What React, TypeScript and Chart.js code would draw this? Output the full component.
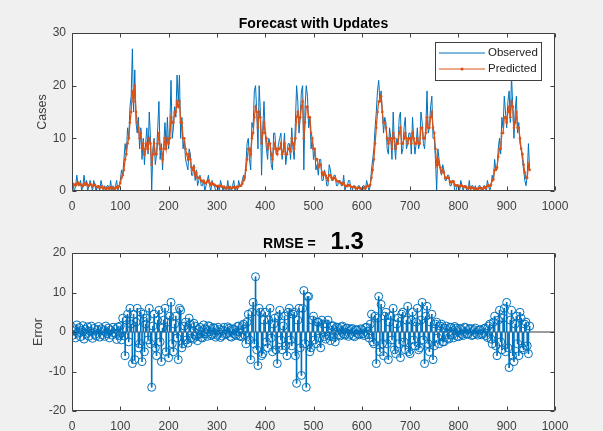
import React, { useEffect, useRef } from 'react';
import { Chart, registerables } from 'chart.js';
Chart.register(...registerables);

const DAY_STEP = 2.5;
const observed = [
  2, 1, 0, 1, 3, 1, 1, 2, 0, 1,   3, 1, 2, 0, 1, 2, 1, 0, 2, 1,
  0, 1, 1, 0, 2, 1, 0, 1, 0, 1,   1, 0, 2, 0, 1, 0, 1, 2, 0, 1,
  2, 4, 3, 6, 9, 7, 12, 10, 16, 18,   27, 15, 23, 13, 11, 14, 8, 12, 6, 10,
  5, 9, 12, 7, 15, 10, 0, 8, 10, 5,   7, 12, 17, 6, 9, 4, 9, 13, 8, 14,
  8, 12, 21, 10, 12, 16, 14, 22, 17, 22,   10, 14, 8, 10, 6, 5, 4, 8, 7, 3,
  3, 5, 2, 4, 1, 2, 3, 1, 1, 2,   0, 1, 2, 3, 1, 0, 2, 1, 1, 0,
  0, 1, 0, 2, 1, 0, 1, 0, 0, 2,   0, 1, 0, 1, 2, 0, 1, 0, 2, 1,
  1, 2, 3, 2, 5, 9, 10, 6, 4, 13,   12, 19, 20, 15, 8, 20, 15, 3, 12, 17,
  11, 8, 6, 10, 9, 5, 4, 11, 11, 7,   7, 9, 10, 11, 6, 8, 11, 5, 7, 9,
  9, 6, 12, 8, 6, 13, 20, 17, 11, 14,   19, 20, 4, 16, 20, 18, 12, 14, 8, 10,
  6, 8, 4, 5, 3, 6, 6, 2, 2, 4,   3, 1, 1, 5, 4, 2, 2, 3, 3, 1,
  1, 2, 2, 1, 1, 3, 0, 1, 1, 2,   2, 0, 0, 1, 1, 0, 0, 1, 1, 0,
  0, 1, 1, 0, 2, 1, 0, 1, 4, 6,   8, 12, 15, 19, 21, 17, 19, 15, 11, 14,
  13, 8, 7, 12, 10, 6, 15, 9, 6, 10,   9, 14, 15, 7, 8, 12, 14, 8, 9, 11,
  11, 7, 14, 10, 7, 9, 12, 8, 9, 15,   13, 9, 8, 12, 19, 11, 12, 16, 18, 10,
  10, 6, 0, 8, 6, 4, 3, 5, 4, 2,   2, 3, 3, 1, 1, 2, 2, 0, 0, 1,
  1, 0, 2, 1, 0, 1, 1, 0, 0, 2,   0, 1, 1, 0, 1, 0, 0, 1, 1, 0,
  0, 1, 1, 0, 2, 1, 0, 1, 3, 2,   6, 4, 4, 8, 10, 7, 14, 12, 18, 15,
  12, 17, 19, 13, 22, 16, 10, 15, 18, 11,   13, 9, 8, 6, 4, 2, 1, 3, 9, 4,
];
const predicted = [
  1.5, 1.3, 1.2, 1, 1.4, 1.6, 1.2, 1.3, 1.1, 0.9,   1.4, 1.2, 1.5, 1.1, 1, 1.3, 1.2, 0.9, 1.1, 1.2,
  0.8, 0.7, 0.9, 0.6, 0.7, 0.9, 0.5, 0.6, 0.4, 0.5,   0.6, 0.4, 0.7, 0.5, 0.6, 0.4, 0.5, 0.8, 0.6, 0.9,
  1.5, 2.5, 3, 4, 6, 7, 9, 10, 13, 15,   19, 17, 20, 15, 13, 12, 10, 11, 8, 9,
  7, 8, 9, 8, 10, 9, 5, 7, 9, 7,   7, 9, 11, 8, 8, 6, 8, 10, 8, 10,
  9, 10, 14, 13, 13, 15, 15, 17, 16, 17,   13, 13, 10, 10, 8, 7, 6, 7, 6, 4.5,
  4, 4.5, 3, 3.5, 2.5, 2.5, 2.5, 2, 1.8, 2,   1.5, 1.5, 1.8, 2, 1.5, 1.2, 1.5, 1.3, 1.2, 1,
  0.9, 1, 0.8, 1, 0.9, 0.7, 0.8, 0.6, 0.5, 0.8,   0.6, 0.7, 0.5, 0.6, 0.8, 0.6, 0.7, 0.6, 0.9, 1,
  1, 1.4, 2, 2.5, 4, 6, 8, 8, 7, 10,   11, 14, 16, 15, 12, 15, 14, 9, 11, 13,
  11, 10, 8, 9, 9, 7, 6, 8, 9, 8,   7, 8, 8, 9, 7, 7.5, 9, 7, 7, 8,
  8, 7.5, 10, 9, 8, 10, 14, 15, 13, 14,   16, 17, 10, 13, 16, 16, 14, 14, 11, 10,
  8, 8, 6, 6, 4.5, 5, 5, 3.5, 3, 3.5,   3, 2.5, 2, 3, 3, 2.5, 2.2, 2.5, 2.4, 2,
  1.8, 1.8, 1.6, 1.5, 1.3, 1.6, 1, 1, 0.9, 1.1,   1.1, 0.8, 0.7, 0.7, 0.8, 0.6, 0.5, 0.6, 0.6, 0.5,
  0.4, 0.5, 0.6, 0.5, 0.9, 1, 0.9, 1.2, 2.5, 4,   6, 9, 12, 15, 17, 17, 18, 15, 13, 13,
  12, 10, 9, 10, 10, 8, 11, 10, 8, 9,   9, 11, 12, 9, 9, 10, 11, 10, 9, 10,
  10, 9, 11, 10, 9, 9, 10, 9, 9, 12,   12, 10, 10, 11, 14, 12, 12, 14, 15, 12,
  11, 8, 5, 6, 5, 4.5, 3.5, 4, 3.5, 2.5,   2.5, 2.5, 2.5, 1.8, 1.6, 1.8, 1.8, 1.2, 1, 1.1,
  1, 0.8, 1.1, 1, 0.8, 0.8, 0.9, 0.6, 0.5, 0.8,   0.5, 0.6, 0.6, 0.4, 0.5, 0.4, 0.4, 0.5, 0.6, 0.5,
  0.4, 0.6, 0.7, 0.6, 1, 1.1, 0.9, 1.2, 2, 2.2,   4, 4, 4.5, 6.5, 8, 8, 11, 11, 14, 14,
  13, 15, 16, 14, 17, 16, 12, 13, 15, 12,   12, 10, 8, 7, 5, 3.5, 2.5, 2.5, 5, 4,
];
const errors = [
  1.2, -0.8, 0.5, -1.5, 1.8, -0.3, 1.1, -1.2, 0.4, 1.6,   -1.8, 0.7, -0.5, 1.3, -1.1, 0.2, 1.5, -1.6, 0.9, -0.6,
  -1, 0.6, 1.4, -1.3, 0.8, -0.7, 0.3, -1.1, 1.5, -0.4,   1, -1.5, 0.5, -0.8, 1.2, -0.3, 0.7, -1.9, 1.3, -0.9,
  1.5, -2, 3.5, -1, -6, 3, 4.5, -2.5, 6, 2,   -8, 4.5, -7, 2.5, 6, -4, -3, 5, -7.5, 4.5,
  -5, 2, 3.5, -2, 6, -3, -14, 1.5, 4.5, -4,   -6, 3, 5.5, -2.5, -7.5, 1, 3, 6, -5, 2.5,
  -6.5, 4, 7.5, -3, -5, 2, 4, -1.5, -7, 6,   5.5, -4, -3, 1.5, 2.5, -2, -2.8, 3.5, 2, -1.5,
  -1.8, 2.2, 1.5, -1, -2.2, 0.6, 1.2, -1.4, -1.5, 1.8,   0.8, -0.5, -1.1, 1.6, 1.4, -0.9, -0.6, 1.1, 1, -1.3,
  -0.8, 1.2, 0.6, -1.4, -1, 0.5, 1.2, -0.7, -0.5, 1.3,   0.9, -1.1, -1.3, 0.8, 0.7, -0.6, -0.9, 1.4, 1.5, -1,
  -1.2, 1.6, 2, -0.8, -3, 2.5, 4.5, -2, -7, 5,   7.5, -3, 14, -4.5, -8.5, 6, 5, -6, -5.5, 3,
  5, -2.5, -4, 3, 6, -1.5, -5, 2, 3.5, -4.5,   -8, 4, 5.5, -2, -4.5, 1.5, 4, -3.5, -6, 5,
  6, -2, -3.5, 4.5, 5, -6, -13, 3, 6, -4,   -11, 6, 10.5, -3, -14, 9, 9, -5, -4, 3,
  4, -2, -3, 2.5, 2.5, -1.5, -4, 3, 2, -1.2,   -1.8, 2, 3, -1, -2.2, 1.5, 1.6, -1.3, -2.5, 1.2,
  1.2, -0.7, -1, 1.3, 1.5, -0.5, -0.8, 0.9, 1, -1.1,   -0.6, 0.7, 0.9, -0.9, -1.2, 0.6, 0.5, -0.5, -0.7, 0.8,
  0.6, -0.5, -0.9, 1.1, 1.2, -0.7, -1.5, 2, 4.5, -2.5,   -3, 4, -8, 3.5, 9, -5, 7, -3, -6, 4,
  5, -3, -7, 2.5, 4, -2, 6, -4.5, -5.5, 2,   3.5, -3, -6.5, 4.5, 5, -2.5, -4.5, 3, 6.5, -5,
  -5.5, 3, 5, -2, -3.5, 2.5, 6, -4.5, -4, 3,   7.5, -2, -8, 4, 6.5, -3, -5, 2.5, 4.5, -7,
  -3.5, 2, 2.5, -1.5, -3, 1.5, 2, -2.5, -2.5, 1,   1.5, -1.6, -1.8, 1.2, 1.2, -0.8, -1.5, 1.4, 1, -1.1,
  -1.2, 0.9, 0.8, -0.6, -0.9, 1.2, 1.1, -0.5, -0.6, 0.8,   0.9, -0.9, -0.7, 0.6, 1, -0.4, -0.8, 0.5, 0.6, -0.7,
  -0.5, 0.8, 1, -0.9, -1.4, 1.5, 2, -1.8, -3, 2.5,   4, -3.5, -6, 3, 5.5, -2.5, -4.5, 3.5, 6, -5,
  7.5, -4, -9, 3, 5.5, -6, -7.5, 2, 4, -3,   -6, 5, 3.5, -4, -4.5, 2, 2.5, -3.5, -5.5, 1.5,
];
const xTicks = [0, 100, 200, 300, 400, 500, 600, 700, 800, 900, 1000];
const casesTicks = [0, 10, 20, 30];
const errorTicks = [-20, -10, 0, 10, 20];
const seriesNames = ['Observed', 'Predicted'];
const topTitle = 'Forecast with Updates';
const rmseLabel = 'RMSE =';
const rmseValue = '1.3';

const BLUE = '#0072BD';
const ORANGE = '#D95319';
const AXIS = '#404040';
const FONT = '"Liberation Sans", Arial, Helvetica, sans-serif';

const pts = (arr: number[]) => arr.map((v, i) => ({ x: i * DAY_STEP, y: v }));

function framePlugin(opts: { ylabel: string; ylabelX: number; drawExtra: (chart: any) => void }) {
  return {
    id: 'matlabFrame',
    beforeDatasetsDraw(chart: any) {
      const { ctx, chartArea: a } = chart;
      ctx.save();
      ctx.fillStyle = '#ffffff';
      ctx.fillRect(a.left, a.top, a.right - a.left, a.bottom - a.top);
      ctx.restore();
    },
    afterDraw(chart: any) {
      const { ctx, chartArea: a, scales } = chart;
      ctx.save();
      ctx.strokeStyle = AXIS;
      ctx.lineWidth = 1;
      const L = Math.round(a.left) + 0.5;
      const R = Math.round(a.right) - 0.5;
      const T = Math.round(a.top) + 0.5;
      const B = Math.round(a.bottom) - 0.5;
      ctx.beginPath();
      ctx.rect(L, T, R - L, B - T);
      ctx.stroke();
      const tl = 4;
      ctx.beginPath();
      scales.x.ticks.forEach((t: any) => {
        const px = Math.round(scales.x.getPixelForValue(t.value)) + 0.5;
        ctx.moveTo(px, B); ctx.lineTo(px, B - tl);
        ctx.moveTo(px, T); ctx.lineTo(px, T + tl);
      });
      scales.y.ticks.forEach((t: any) => {
        const py = Math.round(scales.y.getPixelForValue(t.value)) + 0.5;
        ctx.moveTo(L, py); ctx.lineTo(L + tl, py);
        ctx.moveTo(R, py); ctx.lineTo(R - tl, py);
      });
      ctx.stroke();
      ctx.save();
      ctx.translate(opts.ylabelX, (a.top + a.bottom) / 2);
      ctx.rotate(-Math.PI / 2);
      ctx.fillStyle = AXIS;
      ctx.font = `12.5px ${FONT}`;
      ctx.textAlign = 'center';
      ctx.textBaseline = 'middle';
      ctx.fillText(opts.ylabel, 0, 0);
      ctx.restore();
      opts.drawExtra(chart);
      ctx.restore();
    },
  };
}

function xScale(height: number) {
  return {
    type: 'linear',
    min: 0,
    max: 1000,
    afterBuildTicks: (s: any) => { s.ticks = xTicks.map((v) => ({ value: v })); },
    afterFit: (s: any) => { s.height = height; },
    grid: { display: true, drawOnChartArea: false, drawTicks: false },
    border: { display: false },
    ticks: {
      padding: 8, color: AXIS, font: { size: 12, family: FONT }, maxRotation: 0, autoSkip: false,
      callback: (v: any) => String(v),
    },
  };
}
function yScale(min: number, max: number, ticks: number[]) {
  return {
    type: 'linear',
    min,
    max,
    afterBuildTicks: (s: any) => { s.ticks = ticks.map((v) => ({ value: v })); },
    afterFit: (s: any) => { s.width = 72; },
    grid: { display: true, drawOnChartArea: false, drawTicks: false },
    border: { display: false },
    ticks: { padding: 6, color: AXIS, font: { size: 12, family: FONT }, callback: (v: any) => String(v) },
  };
}

export default function App() {
  const topRef = useRef<HTMLCanvasElement>(null);
  const botRef = useRef<HTMLCanvasElement>(null);

  useEffect(() => {
    document.body.style.margin = '0';
    const top = new Chart(topRef.current!, {
      type: 'line',
      data: {
        datasets: [
          {
            label: seriesNames[1], data: pts(predicted), borderColor: ORANGE, backgroundColor: ORANGE,
            borderWidth: 1.3, pointRadius: 1.3, pointBorderWidth: 0, tension: 0, order: 0,
          },
          {
            label: seriesNames[0], data: pts(observed), borderColor: BLUE, backgroundColor: BLUE,
            borderWidth: 1, pointRadius: 0, tension: 0, order: 1,
          },
        ],
      },
      options: {
        animation: false, responsive: false, events: [],
        layout: { padding: { top: 33, right: 48, bottom: 0, left: 0 } },
        plugins: { legend: { display: false }, tooltip: { enabled: false }, title: { display: false } },
        scales: { x: xScale(27) as any, y: yScale(0, 30, casesTicks) as any },
      },
      plugins: [framePlugin({
        ylabel: 'Cases', ylabelX: 43,
        drawExtra: (chart: any) => {
          const { ctx, chartArea: a } = chart;
          ctx.fillStyle = '#000';
          ctx.font = `bold 14px ${FONT}`;
          ctx.textAlign = 'center';
          ctx.textBaseline = 'alphabetic';
          ctx.fillText(topTitle, (a.left + a.right) / 2, 28);
          const bx = 435, by = 42, bw = 106, bh = 38;
          ctx.fillStyle = '#fff';
          ctx.fillRect(bx, by, bw, bh);
          ctx.strokeStyle = AXIS;
          ctx.lineWidth = 1;
          ctx.strokeRect(bx + 0.5, by + 0.5, bw, bh);
          const rows = [{ c: BLUE, y: 53, dot: false }, { c: ORANGE, y: 69, dot: true }];
          rows.forEach((r, i) => {
            ctx.strokeStyle = r.c;
            ctx.lineWidth = 1.2;
            ctx.beginPath();
            ctx.moveTo(439, r.y); ctx.lineTo(485, r.y);
            ctx.stroke();
            if (r.dot) {
              ctx.fillStyle = r.c;
              ctx.beginPath(); ctx.arc(462, r.y, 1.6, 0, Math.PI * 2); ctx.fill();
            }
            ctx.fillStyle = '#222';
            ctx.font = `11.5px ${FONT}`;
            ctx.textAlign = 'left';
            ctx.textBaseline = 'middle';
            ctx.fillText(seriesNames[i], 488, r.y);
          });
        },
      })],
    } as any);

    const bot = new Chart(botRef.current!, {
      type: 'bar',
      data: {
        datasets: [
          {
            type: 'line', label: 'markers', data: pts(errors), showLine: false,
            pointStyle: 'circle', pointRadius: 4, pointBorderWidth: 1,
            pointBorderColor: BLUE, pointBackgroundColor: 'rgba(0,0,0,0)', borderColor: BLUE, order: 0,
          },
          {
            type: 'bar', label: 'stems', data: pts(errors), backgroundColor: BLUE,
            barThickness: 1, order: 1,
          },
          {
            type: 'line', label: 'baseline', data: [{ x: xTicks[0], y: 0 }, { x: xTicks[xTicks.length - 1], y: 0 }],
            borderColor: '#3a3a3a', borderWidth: 1, pointRadius: 0, order: 2,
          },
        ],
      },
      options: {
        animation: false, responsive: false, events: [],
        layout: { padding: { top: 35, right: 48, bottom: 0, left: 0 } },
        plugins: { legend: { display: false }, tooltip: { enabled: false }, title: { display: false } },
        scales: { x: { ...(xScale(20) as any), offset: false }, y: yScale(-20, 20, errorTicks) as any },
      },
      plugins: [framePlugin({
        ylabel: 'Error', ylabelX: 39,
        drawExtra: (chart: any) => {
          const { ctx, chartArea: a } = chart;
          ctx.fillStyle = '#000';
          ctx.textBaseline = 'alphabetic';
          ctx.textAlign = 'left';
          ctx.font = `bold 14px ${FONT}`;
          const w1 = ctx.measureText(rmseLabel).width;
          ctx.font = `bold 24px ${FONT}`;
          const w2 = ctx.measureText(rmseValue).width;
          const gap = 15;
          const start = (a.left + a.right) / 2 - (w1 + gap + w2) / 2;
          ctx.font = `bold 14px ${FONT}`;
          ctx.fillText(rmseLabel, start, 30);
          ctx.font = `bold 24px ${FONT}`;
          ctx.fillText(rmseValue, start + w1 + gap, 31);
        },
      })],
    } as any);

    return () => { top.destroy(); bot.destroy(); };
  }, []);

  return (
    <div style={{ position: 'absolute', left: 0, top: 0, width: 603, height: 431, background: '#f0f0f0' }}>
      <canvas ref={topRef} width={603} height={218} style={{ display: 'block' }} />
      <canvas ref={botRef} width={603} height={213} style={{ display: 'block' }} />
    </div>
  );
}
